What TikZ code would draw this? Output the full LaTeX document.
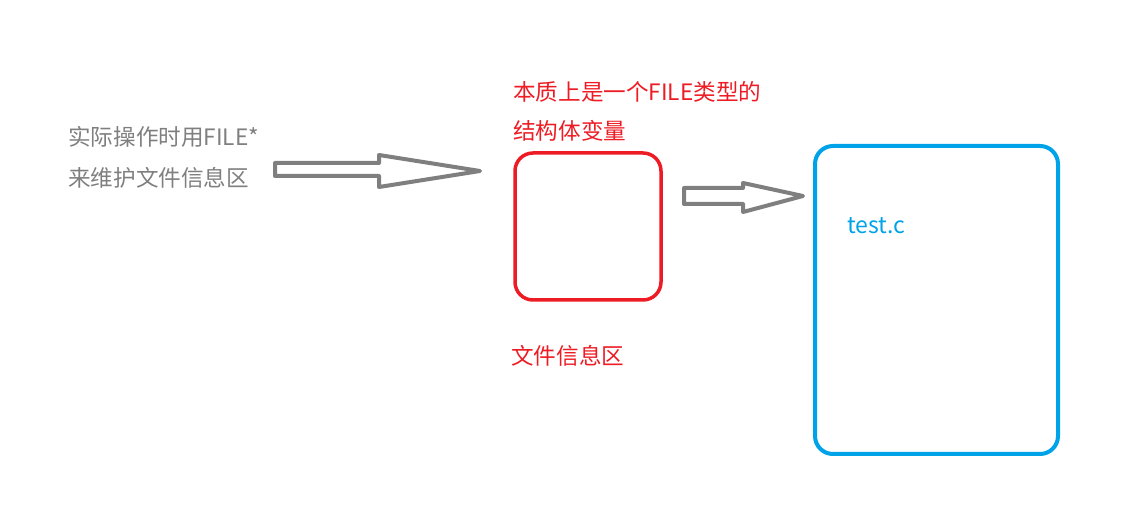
\documentclass[tikz,border=0pt]{standalone}
\usepackage{fontspec}
\setmainfont{Noto Sans CJK SC}
\usetikzlibrary{positioning}
\definecolor{fgray}{HTML}{7F7F7F}
\definecolor{fred}{HTML}{ED1C24}
\definecolor{fblue}{HTML}{00A2E8}
\tikzset{
  label text/.style={anchor=west, inner sep=0pt, font=\fontsize{22.6}{22.6}\selectfont},
  block arrow/.style={draw=fgray, line width=4pt, line join=round}
}
\begin{document}
\begin{tikzpicture}[x=1pt, y=-1pt]
            \useasboundingbox (0,0) rectangle (1125,510);
            % boxes
            \draw[fred, line width=3.5pt, rounded corners=18pt]
            (515,153) rectangle (661,300);
            \draw[fblue, line width=4pt, rounded corners=18pt]
            (815,146) rectangle (1058,454);
            % texts
            \node[label text, text=fgray] (ptr1) at (68,137) {实际操作时用FILE*};
            \node[label text, text=fgray] (ptr2) at (68,178) {来维护文件信息区};
            \node[label text, text=fred] (kind1) at (513,92) {本质上是一个FILE类型的};
            \node[label text, text=fred] (kind2) at (513,131) {结构体变量};
            \node[label text, text=fred] (area) at (511,356) {文件信息区};
            \node[label text, text=fblue, font=\fontsize{23}{23}\selectfont] (name) at (847,226) {test.c};
            % arrows
            \draw[block arrow]
            (275,163) -- (379,163) -- (379,155) --
            (480,171) --
            (379,187) -- (379,176) -- (275,176) -- cycle;
            \draw[block arrow]
            (684,188) -- (743,188) -- (743,183) --
            (803,196) --
            (743,212) -- (743,204) -- (684,204) -- cycle;
        \end{tikzpicture}
\end{document}
